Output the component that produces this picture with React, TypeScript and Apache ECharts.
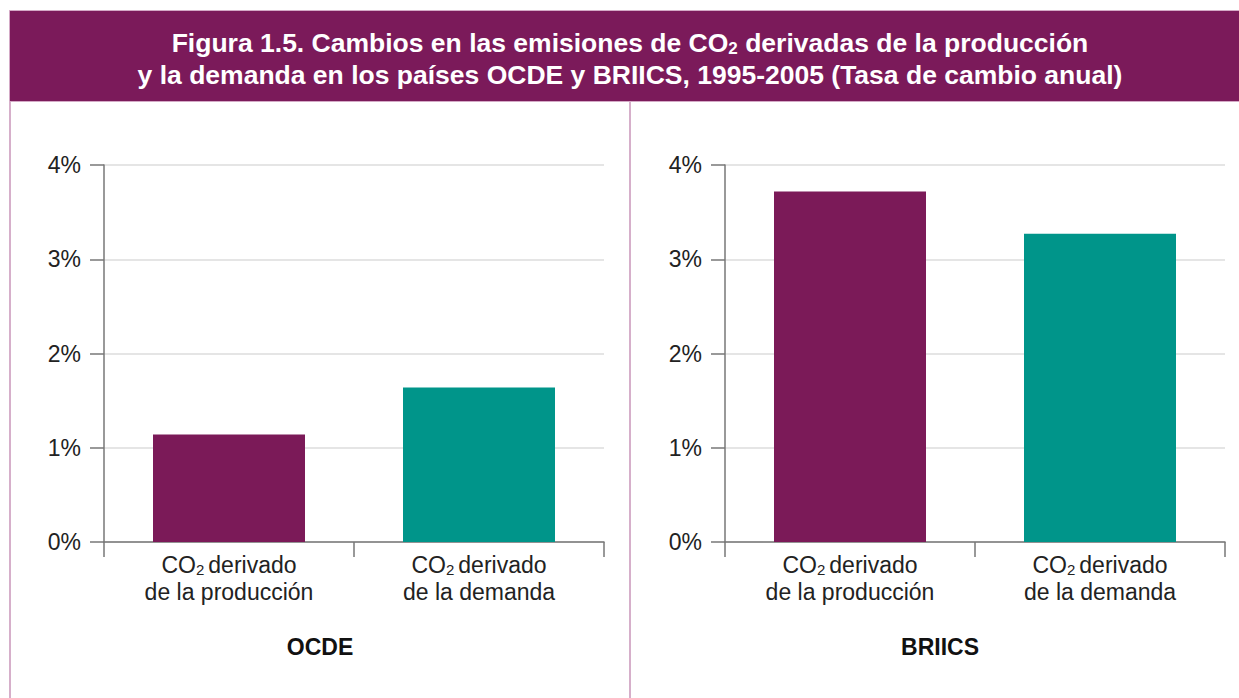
import React, { useEffect, useRef } from "react";
import * as echarts from "echarts";

const categories = ["produccion", "demanda"];
const ocdeValues = [1.14, 1.64];
const briicsValues = [3.72, 3.27];
const panelNames = ["OCDE", "BRIICS"];
const yTicks = [0, 1, 2, 3, 4];
const barColors = ["#7B1A58", "#00958A"];

const FONT = "Liberation Sans";

const catLabel = (v: string) =>
  v === "produccion"
    ? "{a|CO}{s|2}{a|derivado}\n{a|de la producción}"
    : "{a|CO}{s|2}{a|derivado}\n{a|de la demanda}";

export default function App() {
  const ref = useRef<HTMLDivElement>(null);
  useEffect(() => {
    if (!ref.current) return;
    const chart = echarts.init(ref.current, undefined, { renderer: "svg" });
    const grids = [
      { left: 104, right: 635, top: 165, bottom: 156 },
      { left: 725, right: 14, top: 165, bottom: 156 },
    ];
    const axisColor = "#777777";
    const xAxes = grids.map((_, i) => ({
      type: "category",
      gridIndex: i,
      data: categories,
      axisLine: { lineStyle: { color: axisColor, width: 1.5 } },
      axisTick: { show: true, length: 15, lineStyle: { color: axisColor, width: 1.5 } },
      axisLabel: {
        margin: 9,
        formatter: catLabel,
        rich: {
          a: { fontSize: 23, fontFamily: FONT, color: "#222", lineHeight: 27 },
          s: { fontSize: 15, fontFamily: FONT, color: "#222", lineHeight: 27, padding: [9, 4, 0, 0] },
        },
      },
    }));
    const yAxes = grids.map((_, i) => ({
      type: "value",
      gridIndex: i,
      min: yTicks[0],
      max: yTicks[yTicks.length - 1],
      interval: 1,
      axisLine: { show: true, lineStyle: { color: axisColor, width: 1.5 } },
      axisTick: { show: true, length: 14, lineStyle: { color: axisColor, width: 1.5 } },
      axisLabel: {
        margin: 23,
        formatter: "{value}%",
        fontSize: 23,
        fontFamily: FONT,
        color: "#222",
      },
      splitLine: { lineStyle: { color: "#dddddd", width: 1.5 } },
    }));
    const mkSeries = (vals: number[], idx: number) => ({
      type: "bar",
      xAxisIndex: idx,
      yAxisIndex: idx,
      barWidth: 152,
      data: vals.map((v, j) => ({ value: v, itemStyle: { color: barColors[j] } })),
    });
    const borderColor = "#C994B8";
    chart.setOption({
      animation: false,
      backgroundColor: "#ffffff",
      grid: grids,
      xAxis: xAxes,
      yAxis: yAxes,
      series: [mkSeries(ocdeValues, 0), mkSeries(briicsValues, 1)],
      graphic: [
        { type: "rect", shape: { x: 9.5, y: 10.5, width: 1240, height: 91 }, style: { fill: "#7B1A5A", stroke: "#D4A9C6", lineWidth: 1 } },
        { type: "line", shape: { x1: 10, y1: 102, x2: 10, y2: 700 }, style: { stroke: borderColor, lineWidth: 1.5 } },
        { type: "line", shape: { x1: 630, y1: 102, x2: 630, y2: 700 }, style: { stroke: borderColor, lineWidth: 1.5 } },
        {
          type: "text",
          x: 630,
          y: 59,
          style: {
            text: "{t|Figura 1.5. Cambios en las emisiones de CO}{ts|2}{t| derivadas de la producción}\n{t|y la demanda en los países OCDE y BRIICS, 1995-2005 (Tasa de cambio anual)}",
            align: "center",
            verticalAlign: "middle",
            fill: "#ffffff",
            rich: {
              t: { fontSize: 26.5, fontWeight: "bold", fontFamily: FONT, fill: "#ffffff", lineHeight: 32 },
              ts: { fontSize: 17, fontWeight: "bold", fontFamily: FONT, fill: "#ffffff", lineHeight: 32, padding: [10, 0, 0, 0] },
            },
          },
        },
        {
          type: "text",
          x: 320,
          y: 647,
          style: { text: panelNames[0], align: "center", verticalAlign: "middle", fontSize: 23, fontWeight: "bold", fontFamily: FONT, fill: "#111" },
        },
        {
          type: "text",
          x: 940,
          y: 647,
          style: { text: panelNames[1], align: "center", verticalAlign: "middle", fontSize: 23, fontWeight: "bold", fontFamily: FONT, fill: "#111" },
        },
      ],
    });
    return () => chart.dispose();
  }, []);
  return <div ref={ref} style={{ position: "fixed", left: 0, top: 0, width: 1239, height: 698 }} />;
}
